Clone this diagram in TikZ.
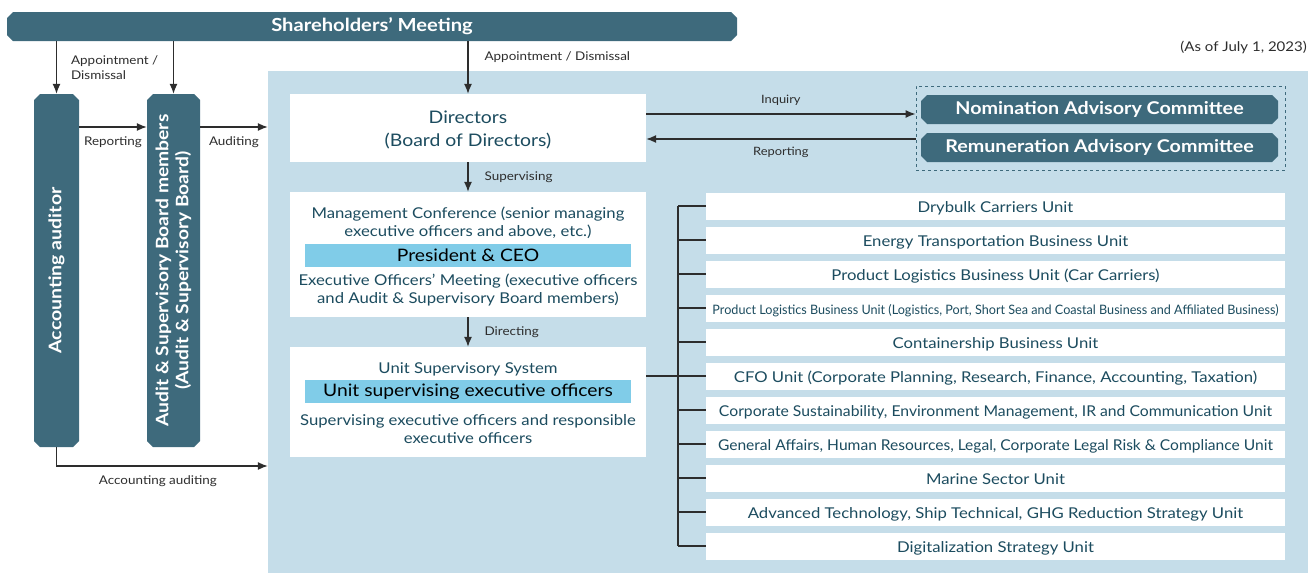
\documentclass[tikz,border=0pt]{standalone}
\usepackage{fontspec}
\usepackage{graphicx}
\setmainfont[FakeStretch=1.12]{Lato}
\usetikzlibrary{arrows.meta, positioning}
\definecolor{barteal}{RGB}{62,106,124}
\definecolor{bgblue}{RGB}{197,221,233}
\definecolor{ceoblue}{RGB}{128,204,232}
\definecolor{txtteal}{RGB}{28,76,95}
\definecolor{linegray}{RGB}{45,45,45}
\newcommand{\squeezeunit}[2]{\resizebox{#1pt}{\height}{#2}}
% dark bar with cut corners: [options]{name}{cx}{cy}{w}{h}{text}
\newcommand{\chambar}[7][]{%
	\fill[barteal] ({#3-#5/2+6},{#4-#6/2}) -- ({#3+#5/2-6},{#4-#6/2}) -- ({#3+#5/2},{#4-#6/2+6}) -- ({#3+#5/2},{#4+#6/2-6})
		-- ({#3+#5/2-6},{#4+#6/2}) -- ({#3-#5/2+6},{#4+#6/2}) -- ({#3-#5/2},{#4+#6/2-6}) -- ({#3-#5/2},{#4-#6/2+6}) -- cycle;
	\node[barnode, minimum width=#5pt, minimum height=#6pt, #1] (#2) at (#3,#4) {#7};}

\begin{document}
\begin{tikzpicture}[x=1pt, y=-1pt,
			>={Latex[length=10pt,width=8pt]},   % arrow tips
			barnode/.style={inner sep=0pt, text=white, font=\bfseries\fontsize{18}{20}\selectfont},
			whitebox/.style={fill=white, minimum width=356pt, inner sep=0pt},
			boxtext/.style={text=txtteal, align=center, inner sep=0pt, font=\fontsize{14.9}{18}\selectfont},
			ceobar/.style={fill=ceoblue, minimum width=326pt, minimum height=23pt, inner sep=0pt, font=\fontsize{17.2}{20}\selectfont},
			unitbox/.style={fill=white, minimum width=579pt, minimum height=27pt, inner sep=0pt, text height=13pt, text depth=1pt, text=txtteal, font=\fontsize{14.9}{16}\selectfont},
			arrowlabel/.style={text=linegray, inner sep=1pt, font=\fontsize{12}{15}\selectfont},
			conn/.style={draw=linegray, line width=1.2pt}]
			\useasboundingbox (0,0) rectangle (1316,573);
			% background
			\node[fill=bgblue, minimum width=1040pt, minimum height=502pt, inner sep=0pt] (bg) at (788,322) {};
			\chambar{sh}{372}{26.5}{730}{29}{Shareholders’ Meeting}
			\node[arrowlabel, anchor=east, font=\fontsize{13.4}{15}\selectfont] (asof) at (1308,47) {(As of July 1, 2023)};
			% auditors
			\chambar{aa}{56.5}{270.5}{45}{353}{}
			\node[rotate=90, text=white, font=\bfseries\fontsize{17.4}{20}\selectfont] (aatext) at (aa.center) {Accounting auditor};
			\chambar{asb}{173.5}{270.5}{53}{353}{}
			\node[rotate=90, text=white, align=center, font=\bfseries\fontsize{17.2}{20}\selectfont] (asbtext) at (asb.center) {Audit \& Supervisory Board members\\(Audit \& Supervisory Board)};
			% directors and executives
			\node[whitebox, minimum height=68pt] (dir) at (468,128) {};
			\node[boxtext, font=\fontsize{17.3}{23}\selectfont] (dirtext) at (468,130) {Directors\\(Board of Directors)};
			\node[whitebox, minimum height=125pt] (mgmt) at (468,254.5) {};
			\node[boxtext] (mc) at (468,222.5) {Management Conference (senior managing\\executive officers and above, etc.)};
			\node[ceobar] (ceo) at (468,255.5) {President \& CEO};
			\node[boxtext] (eom) at (468,289.5) {Executive Officers’ Meeting (executive officers\\and Audit \& Supervisory Board members)};
			\node[whitebox, minimum height=110pt] (usys) at (468,402) {};
			\node[boxtext] (ust) at (468,369) {Unit Supervisory System};
			\node[ceobar] (use) at (468,391.5) {Unit supervising executive officers};
			\node[boxtext] (seo) at (468,429.5) {Supervising executive officers and responsible\\executive officers};
			% committees
			\node[draw=barteal, dashed, line width=1pt, minimum width=369pt, minimum height=84pt, inner sep=0pt] (adv) at (1100.5,128) {};
			\chambar[font=\bfseries\fontsize{17.6}{18}\selectfont]{nom}{1099.5}{109.5}{357}{29}{Nomination Advisory Committee}
			\chambar[font=\bfseries\fontsize{17.6}{18}\selectfont]{rem}{1099.5}{147.5}{357}{29}{Remuneration Advisory Committee}
			% units
			\foreach \txt [count=\i] in {{Drybulk Carriers Unit}, {Energy Transportation Business Unit}, {Product Logistics Business Unit (Car Carriers)},
				{\squeezeunit{566}{\fontsize{13}{15}\selectfont Product Logistics Business Unit (Logistics, Port, Short Sea and Coastal Business and Affiliated Business)}},
				{Containership Business Unit}, {CFO Unit (Corporate Planning, Research, Finance, Accounting, Taxation)},
				{\squeezeunit{553}{Corporate Sustainability, Environment Management, IR and Communication Unit}},
				{\squeezeunit{555}{General Affairs, Human Resources, Legal, Corporate Legal Risk \& Compliance Unit}},
				{Marine Sector Unit}, {Advanced Technology, Ship Technical, GHG Reduction Strategy Unit}, {Digitalization Strategy Unit}}
				\node[unitbox] (u\i) at (995.5,{206+34*(\i-1)}) {\txt};
			% connectors
			\draw[conn,->] (sh.south -| aa.north) -- (aa.north) node[arrowlabel, midway, right=13pt, align=left] (lapp) {Appointment /\\Dismissal};
			\draw[conn,->] (sh.south -| asb.north) -- (asb.north);
			\draw[conn,->] (sh.south -| dir.north) -- (dir.north) node[arrowlabel, pos=0.3, right=15pt] (lappdir) {Appointment / Dismissal};
			\draw[conn,->] ([yshift=143.5pt]aa.east) -- ([yshift=143.5pt]aa.east -| asb.west) node[arrowlabel, midway, below=8pt] (lrep) {Reporting};
			\draw[conn,->] ([yshift=143.5pt]asb.east) -- ([yshift=143.5pt]asb.east -| bg.west) node[arrowlabel, midway, below=8pt] (laud) {Auditing};
			\draw[conn,->] (aa.south) |- ([yshift=-144pt]bg.west) node[arrowlabel, pos=0.74, below=8pt] (laccaud) {Accounting auditing};
			\draw[conn,->] (dir.south) -- (mgmt.north) node[arrowlabel, midway, right=15pt] (lsup) {Supervising};
			\draw[conn,->] (mgmt.south) -- (usys.north) node[arrowlabel, midway, right=15pt] (ldirect) {Directing};
			\draw[conn,->] ([yshift=14pt]dir.east) -- ([yshift=14pt]dir.east -| adv.west) node[arrowlabel, midway, above=7pt, font=\fontsize{11.5}{14}\selectfont] (linq) {Inquiry};
			\draw[conn,<-] ([yshift=-11pt]dir.east) -- ([yshift=-11pt]dir.east -| adv.west) node[arrowlabel, midway, below=6pt, font=\fontsize{11.5}{14}\selectfont] (lrepdir) {Reporting};
			\coordinate (trunk) at (678,0);
			\draw[conn] (trunk |- u1.west) -- (trunk |- u11.west);
			\foreach \i in {1,...,11} \draw[conn] (trunk |- u\i.west) -- (u\i.west);
			\draw[conn] (usys.east |- u6.west) -- (trunk |- u6.west);
		\end{tikzpicture}
\end{document}
